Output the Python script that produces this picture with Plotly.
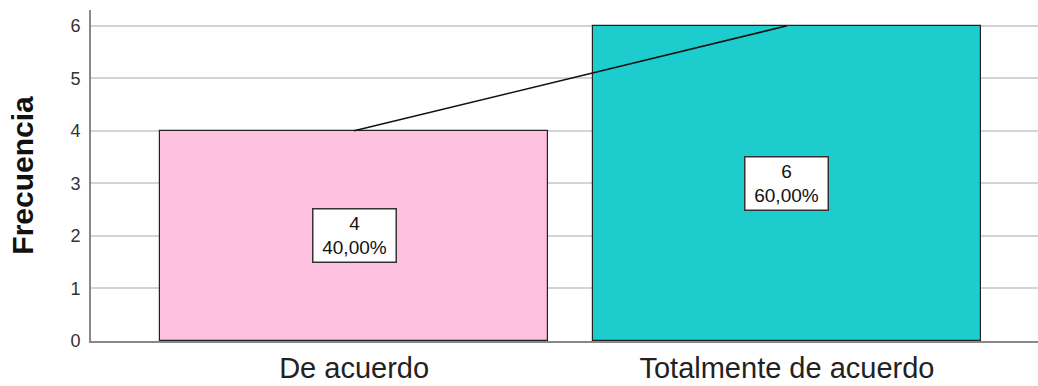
import plotly.graph_objects as go

categories = ["De acuerdo", "Totalmente de acuerdo"]
counts = [4, 6]
bar_colors = ["#FEC1DF", "#1DCDCD"]
y_ticks = [0, 1, 2, 3, 4, 5, 6]

total = sum(counts)
positions = list(range(len(categories)))

fig = go.Figure()

fig.add_trace(go.Bar(
    x=positions,
    y=counts,
    width=0.897,
    marker=dict(color=bar_colors, line=dict(color="#222222", width=1.2)),
    hoverinfo="skip",
))

fig.add_trace(go.Scatter(
    x=positions,
    y=counts,
    mode="lines",
    line=dict(color="#111111", width=1.6),
    hoverinfo="skip",
))

for xi, c in zip(positions, counts):
    pct = f"{100 * c / total:.2f}".replace(".", ",") + "%"
    fig.add_annotation(
        x=xi, y=c / 2,
        text=f"{c}<br>{pct}",
        showarrow=False,
        font=dict(family="Arial, Liberation Sans", size=19, color="#111111"),
        bgcolor="white",
        bordercolor="#333333",
        borderwidth=1.5,
        borderpad=1,
        width=80,
        height=50,
        align="center",
        valign="middle",
    )

fig.update_layout(
    width=1038, height=386,
    margin=dict(l=91, r=0, t=10, b=45),
    paper_bgcolor="white",
    plot_bgcolor="white",
    showlegend=False,
    bargap=0,
    font=dict(family="Arial, Liberation Sans"),
)

fig.update_xaxes(
    range=[-0.608, 1.58],
    tickvals=positions,
    ticktext=categories,
    tickfont=dict(size=29, color="#222222"),
    showgrid=False,
    showline=True,
    linecolor="#888888",
    linewidth=2,
    ticks="",
    zeroline=False,
)

fig.update_yaxes(
    range=[0, 6.3],
    tickvals=y_ticks,
    tickfont=dict(size=18, color="#333333"),
    ticklabelstandoff=5,
    showgrid=True,
    gridcolor="#D4D4D4",
    gridwidth=2,
    showline=True,
    linecolor="#888888",
    linewidth=2,
    ticks="",
    ticklen=0,
    zeroline=False,
    title=dict(text="<b>Frecuencia</b>", font=dict(size=30, color="#111111"), standoff=28),
)

fig.write_html("out.html")
